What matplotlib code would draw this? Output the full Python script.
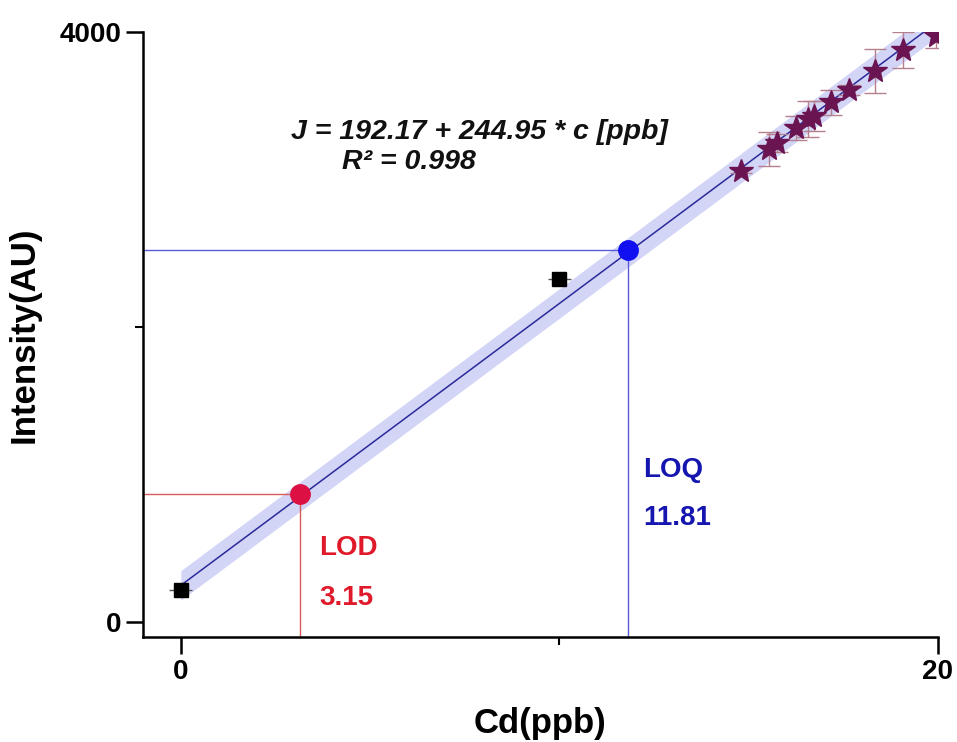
import numpy as np
import matplotlib
matplotlib.use('Agg')
import matplotlib.pyplot as plt

plt.rcParams['font.family'] = ['Liberation Sans', 'DejaVu Sans']

# calibration standards (black squares)
std_x = [0, 10]
std_y = [217, 2323]
std_xerr = [0.3, 0.3]

# sample measurements (stars)
smp_x = [14.80, 15.54, 15.75, 16.25, 16.57, 16.72, 17.17, 17.65, 18.34, 19.08, 19.95]
smp_y = [3056, 3205, 3246, 3348, 3409, 3430, 3525, 3606, 3735, 3878, 3973]
smp_err = [15, 115, 60, 80, 120, 100, 85, 35, 150, 120, 80]

# fitted line as drawn, with confidence band half-width
fit_a = 250
fit_b = 191
band = 100

lod_x, lod_y = 3.15, 870
loq_x, loq_y = 11.81, 2520

fig = plt.figure(figsize=(9.57, 7.42), dpi=100)
ax = fig.add_axes([0.1494, 0.1415, 0.8306, 0.8154])

xs = np.linspace(0, 20.5, 100)
ys = fit_a + fit_b * xs
ax.fill_between(xs, ys - band, ys + band, color='#d3d5f7', lw=0, zorder=1)
ax.plot(xs, ys, color='#2a2a9a', lw=1.1, zorder=2)

# LOD / LOQ guide lines
ax.plot([-1, lod_x, lod_x], [lod_y, lod_y, -100], color='#d85a5a', lw=1.0, zorder=2)
ax.plot([-1, loq_x, loq_x], [loq_y, loq_y, -100], color='#5a5ad8', lw=1.0, zorder=2)

ax.errorbar(std_x, std_y, xerr=std_xerr, fmt='s', color='black', ms=10,
            ecolor='#555555', elinewidth=1, capsize=0, zorder=4)
ax.errorbar(smp_x, smp_y, yerr=smp_err, fmt='*', color='#6b1452', ms=18,
            ecolor='#b4808e', elinewidth=1, capsize=8, capthick=1, zorder=4)

ax.plot(lod_x, lod_y, 'o', color='#dc1043', ms=14, zorder=5)
ax.plot(loq_x, loq_y, 'o', color='#1010f0', ms=14, zorder=5)

ax.text(lod_x + 0.5, 455, 'LOD', color='#e01a2a', fontsize=20, fontweight='bold')
ax.text(lod_x + 0.5, 115, '3.15', color='#e01a2a', fontsize=20, fontweight='bold')
ax.text(loq_x + 0.4, 985, 'LOQ', color='#1515b0', fontsize=20, fontweight='bold')
ax.text(loq_x + 0.4, 659, '11.81', color='#1515b0', fontsize=20, fontweight='bold')

ax.text(2.9, 3273, 'J = 192.17 + 244.95 * c [ppb]', fontsize=20.5,
        fontweight='bold', fontstyle='italic', color='#111111')
ax.text(4.25, 3070, 'R\u00b2 = 0.998', fontsize=20.5,
        fontweight='bold', fontstyle='italic', color='#111111')

ax.set_xlim(-1, 20)
ax.set_ylim(-100, 4000)
ax.set_xticks([0, 20])
ax.set_xticks([10], minor=True)
ax.set_yticks([0, 4000])
ax.set_yticks([2000], minor=True)
ax.tick_params(which='major', direction='out', length=12, width=1.8, labelsize=20)
ax.tick_params(which='minor', direction='out', length=6, width=1.5)
for lab in ax.get_xticklabels() + ax.get_yticklabels():
    lab.set_fontweight('bold')

for side in ['top', 'right']:
    ax.spines[side].set_visible(False)
for side in ['left', 'bottom']:
    ax.spines[side].set_linewidth(1.8)

ax.set_xlabel('Cd(ppb)', fontsize=25, fontweight='bold', labelpad=16)
ax.set_ylabel('Intensity(AU)', fontsize=25, fontweight='bold', labelpad=14)

plt.savefig('out.png', dpi=100)
